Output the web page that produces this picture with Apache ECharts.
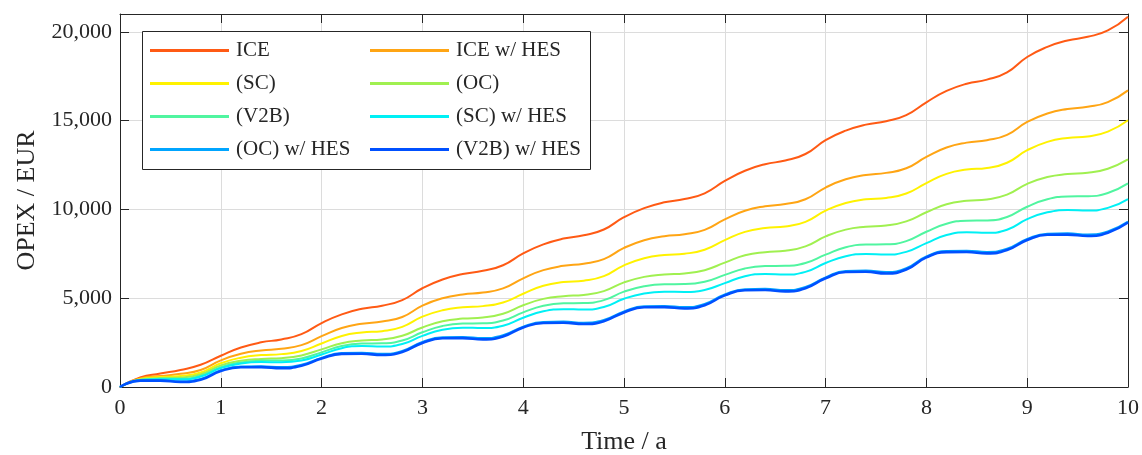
<!DOCTYPE html>
<html>
<head>
<meta charset="utf-8">
<script src="https://cdn.jsdelivr.net/npm/echarts@6/dist/echarts.min.js"></script>
<style>
  html, body { margin: 0; padding: 0; background: #fff; }
  #grafica { width: 1142px; height: 455px; }
</style>
</head>
<body>
<div id="grafica"></div>
<script>
//tiempo en años
var tiempo = [0, 0.2, 0.4, 0.6, 0.8, 1, 1.2, 1.4, 1.6, 1.8, 2, 2.2, 2.4, 2.6, 2.8, 3, 3.2, 3.4, 3.6, 3.8,
    4, 4.2, 4.4, 4.6, 4.8, 5, 5.2, 5.4, 5.6, 5.8, 6, 6.2, 6.4, 6.6, 6.8, 7, 7.2, 7.4, 7.6, 7.8,
    8, 8.2, 8.4, 8.6, 8.8, 9, 9.2, 9.4, 9.6, 9.8, 10];

//OPEX acumulado en EUR
var ice = [0, 540, 760, 960, 1250, 1760, 2220, 2514, 2680, 2974, 3600, 4090, 4404, 4580, 4894, 5560, 6050, 6364, 6540, 6854,
    7520, 8030, 8356, 8540, 8866, 9560, 10070, 10396, 10580, 10906, 11600, 12175, 12543, 12750, 13118, 13900, 14433, 14773, 14965, 15306,
    16030, 16668, 17076, 17305, 17713, 18580, 19148, 19511, 19715, 20078, 20850];
var iceHes = [0, 480, 620, 740, 960, 1500, 1867, 2058, 2153, 2357, 2860, 3324, 3565, 3686, 3944, 4580, 4996, 5211, 5319, 5550,
    6120, 6582, 6821, 6941, 7197, 7830, 8265, 8490, 8603, 8844, 9440, 9923, 10174, 10299, 10568, 11230, 11694, 11935, 12056, 12314,
    12950, 13482, 13758, 13896, 14191, 14920, 15401, 15650, 15774, 16041, 16700];
var sc = [0, 450, 560, 620, 820, 1340, 1651, 1795, 1851, 2028, 2450, 2873, 3069, 3145, 3386, 3960, 4321, 4489, 4553, 4760,
    5250, 5698, 5906, 5986, 6242, 6850, 7248, 7432, 7503, 7730, 8270, 8735, 8951, 9034, 9299, 9930, 10364, 10566, 10643, 10891,
    11480, 11998, 12239, 12331, 12627, 13330, 13803, 14023, 14107, 14378, 15020];
var oc = [0, 420, 500, 540, 720, 1220, 1472, 1580, 1625, 1778, 2120, 2464, 2612, 2674, 2883, 3350, 3700, 3850, 3913, 4125,
    4600, 4961, 5116, 5181, 5400, 5890, 6201, 6334, 6390, 6578, 7000, 7414, 7592, 7666, 7918, 8480, 8861, 9024, 9092, 9323,
    9840, 10288, 10480, 10560, 10832, 11440, 11824, 11988, 12057, 12289, 12810];
var v2b = [0, 400, 460, 470, 640, 1120, 1386, 1485, 1494, 1610, 1950, 2312, 2447, 2459, 2617, 3080, 3438, 3573, 3584, 3741,
    4200, 4574, 4715, 4727, 4890, 5370, 5671, 5784, 5793, 5925, 6310, 6675, 6812, 6823, 6983, 7450, 7863, 8018, 8031, 8211,
    8740, 9191, 9360, 9375, 9572, 10150, 10569, 10726, 10740, 10923, 11460];
var scHes = [0, 390, 430, 430, 590, 1060, 1322, 1407, 1391, 1491, 1830, 2187, 2303, 2282, 2418, 2880, 3227, 3339, 3319, 3451,
    3900, 4264, 4382, 4360, 4499, 4970, 5269, 5366, 5348, 5463, 5850, 6234, 6359, 6336, 6483, 6980, 7361, 7484, 7462, 7607,
    8100, 8559, 8708, 8681, 8856, 9450, 9834, 9959, 9936, 10083, 10580];
var ocHes = [0, 370, 380, 320, 450, 940, 1157, 1171, 1122, 1248, 1640, 1916, 1934, 1871, 2032, 2530, 2800, 2817, 2756, 2913,
    3400, 3664, 3681, 3621, 3774, 4250, 4548, 4567, 4500, 4672, 5210, 5508, 5527, 5460, 5632, 6170, 6536, 6559, 6477, 6689,
    7350, 7654, 7673, 7605, 7781, 8330, 8634, 8653, 8585, 8761, 9310];
var v2bHes = [0, 360, 360, 280, 410, 900, 1110, 1117, 1061, 1194, 1600, 1864, 1873, 1802, 1970, 2480, 2741, 2750, 2680, 2845,
    3350, 3605, 3614, 3546, 3707, 4200, 4488, 4498, 4421, 4603, 5160, 5448, 5458, 5381, 5563, 6120, 6474, 6486, 6391, 6616,
    7300, 7593, 7602, 7524, 7710, 8275, 8571, 8580, 8502, 8689, 9260];

var nombres = ['ICE', 'ICE w/ HES', '(SC)', '(OC)', '(V2B)', '(SC) w/ HES', '(OC) w/ HES', '(V2B) w/ HES'];
var valores = [ice, iceHes, sc, oc, v2b, scHes, ocHes, v2bHes];
var colores = ['#ff5a14', '#ffa514', '#fff200', '#a0f050', '#50f5a0', '#00f0f5', '#00a5ff', '#0050ff'];

var fuente = 'Liberation Serif';
var texto = '#262626';

//junta tiempo y valores
function pares(serie) {
    var d = [];
    for (var i = 0; i < tiempo.length; i++) {
        d.push([tiempo[i], serie[i]]);
    }
    return d;
}

function miles(v) {
    return String(v).replace(/\B(?=(\d{3})+(?!\d))/g, ',');
}

var series = [];
valores.forEach(function (v, i) {
    series.push({
        name: nombres[i],
        type: 'line',
        data: pares(v),
        smooth: true,
        symbol: 'none',
        color: colores[i],
        lineStyle: { width: i == 7 ? 2.6 : 2, color: colores[i] },
        z: 2 + i * 0.01
    });
});

var legendaBase = {
    orient: 'vertical',
    top: 40,
    icon: 'rect',
    itemWidth: 79,
    itemHeight: 3,
    itemGap: 12,
    padding: 0,
    selectedMode: false,
    textStyle: { fontFamily: fuente, fontSize: 21, lineHeight: 21, color: texto, padding: [0, 0, 0, 2] }
};

var option = {
    animation: false,
    backgroundColor: '#fff',
    grid: { left: 120, right: 14, top: 14, bottom: 68, outerBoundsMode: 'none' },
    graphic: [{
        type: 'rect',
        z: 3,
        shape: { x: 142.5, y: 31.5, width: 448, height: 138 },
        style: { fill: '#fff', stroke: texto, lineWidth: 1 }
    }],
    legend: [
        Object.assign({}, legendaBase, { left: 150, data: [nombres[0], nombres[2], nombres[4], nombres[6]] }),
        Object.assign({}, legendaBase, { left: 370, data: [nombres[1], nombres[3], nombres[5], nombres[7]] })
    ],
    xAxis: [{
        type: 'value',
        min: 0, max: 10, interval: 1,
        name: 'Time / a',
        nameLocation: 'middle',
        nameGap: 42,
        nameTextStyle: { fontFamily: fuente, fontSize: 26, color: texto },
        axisLine: { onZero: false, lineStyle: { color: texto, width: 1 } },
        axisTick: { inside: true, length: 9, lineStyle: { color: texto } },
        axisLabel: { fontFamily: fuente, fontSize: 22, color: texto, margin: 10 },
        splitLine: { show: true, lineStyle: { color: '#dcdcdc', width: 1 } }
    }, {
        type: 'value', position: 'top',
        min: 0, max: 10, interval: 1,
        axisLine: { onZero: false, lineStyle: { color: texto, width: 1 } },
        axisTick: { inside: true, length: 9, lineStyle: { color: texto } },
        axisLabel: { show: false },
        splitLine: { show: false }
    }],
    yAxis: [{
        type: 'value',
        min: 0, max: 21000, interval: 5000,
        name: 'OPEX / EUR',
        nameLocation: 'middle',
        nameGap: 80,
        nameTextStyle: { fontFamily: fuente, fontSize: 26, color: texto },
        axisLine: { show: true, onZero: false, lineStyle: { color: texto, width: 1 } },
        axisTick: { show: true, inside: true, length: 9, lineStyle: { color: texto } },
        axisLabel: { fontFamily: fuente, fontSize: 22, color: texto, margin: 8, showMaxLabel: false, formatter: miles },
        splitLine: { show: true, lineStyle: { color: '#dcdcdc', width: 1 } }
    }, {
        type: 'value', position: 'right',
        min: 0, max: 21000, interval: 5000,
        axisLine: { show: true, onZero: false, lineStyle: { color: texto, width: 1 } },
        axisTick: { show: true, inside: true, length: 9, lineStyle: { color: texto } },
        axisLabel: { show: false },
        splitLine: { show: false }
    }],
    series: series
};

var grafico = echarts.init(document.getElementById('grafica'));
grafico.setOption(option);
</script>
</body>
</html>
